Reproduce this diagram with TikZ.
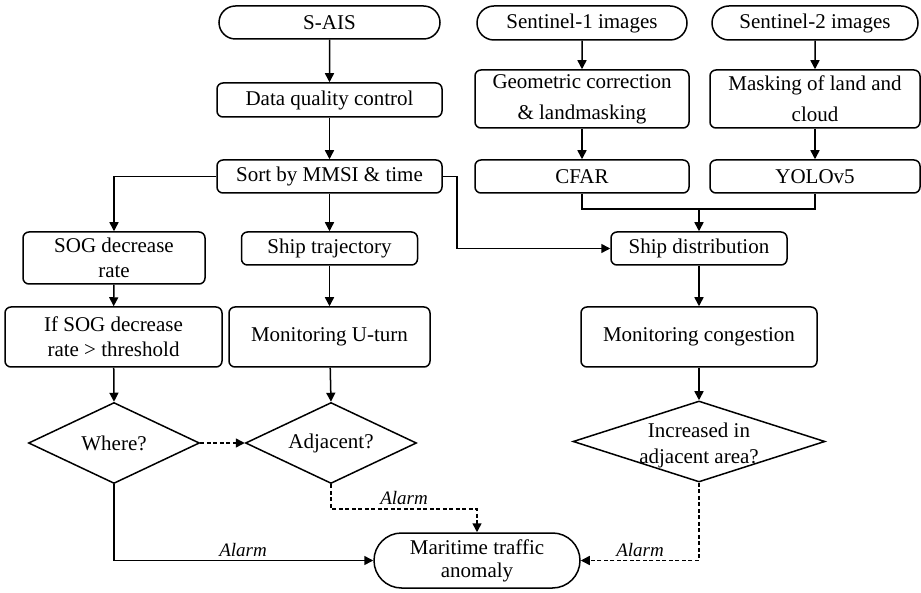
\documentclass[tikz,border=0pt]{standalone}
\usepackage{fontspec}
\setmainfont{Liberation Serif}
\usetikzlibrary{arrows.meta,shapes.geometric,shapes.misc}
\begin{document}
\begin{tikzpicture}[x=1pt,y=-1pt,
  line width=1.5pt,
  every node/.style={font=\fontsize{21}{25}\selectfont},
  box/.style={draw,rounded corners=6pt,align=center,inner sep=2pt},
  term/.style={draw,rounded rectangle,align=center,inner sep=2pt},
  dia/.style={draw,diamond,inner sep=0pt},
  arr/.style={-{Triangle[length=9pt,width=9pt]}},
  dsh/.style={dash pattern=on 4pt off 2.5pt},
  alarm/.style={font=\fontsize{19}{22}\selectfont\itshape}]
\useasboundingbox (0,0) rectangle (921,593);
% left / middle column
\node[term,minimum width=225pt,minimum height=33pt] (sais) at (329.5,22.5) {S-AIS};
\node[box,minimum width=225pt,minimum height=34pt] (dqc) at (329.5,100) {Data quality control};
\node[box,minimum width=225pt,minimum height=33pt] (sort) at (329.5,176.5) {Sort by MMSI \& time};
\node[box,minimum width=182pt,minimum height=52pt] (sogd) at (114,258) {SOG decrease\\rate};
\node[box,minimum width=176pt,minimum height=33pt] (shipt) at (329.5,248.5) {Ship trajectory};
\node[box,minimum width=217pt,minimum height=60pt] (ifsog) at (113.5,337) {If SOG decrease\\rate > threshold};
\node[box,minimum width=201pt,minimum height=60pt] (uturn) at (329.5,337) {Monitoring U-turn};
\node[dia,minimum width=171pt,minimum height=81pt] (where) at (114,443) {};
\node at (where) {Where?};
\node[dia,minimum width=171pt,minimum height=81pt] (adj) at (331,443) {};
\node at (adj) {Adjacent?};
% right columns
\node[term,minimum width=214pt,minimum height=34pt] (s1) at (582,23) {Sentinel-1 images};
\node[term,minimum width=210pt,minimum height=34pt] (s2) at (815,23) {Sentinel-2 images};
\node[box,minimum width=214pt,minimum height=58pt,font=\fontsize{21}{31}\selectfont] (geo) at (582,99) {Geometric correction\\\& landmasking};
\node[box,minimum width=210pt,minimum height=58pt,font=\fontsize{21}{31}\selectfont] (mask) at (815,99) {Masking of land and\\cloud};
\node[box,minimum width=214pt,minimum height=33pt] (cfar) at (582,176.5) {CFAR};
\node[box,minimum width=210pt,minimum height=33pt] (yolo) at (815,176.5) {YOLOv5};
\coordinate (j) at (699,209);
\node[box,minimum width=176pt,minimum height=33pt] (shipd) at (699,248.5) {Ship distribution};
\node[box,minimum width=236pt,minimum height=60pt] (moncong) at (699,337) {Monitoring congestion};
\node[dia,minimum width=252pt,minimum height=81pt] (incr) at (699,441.5) {};
\node[align=center,font=\fontsize{21}{26}\selectfont] (incrt) at (699,445) {Increased in\\adjacent area?};
% bottom
\node[term,minimum width=210pt,minimum height=55pt,font=\fontsize{21}{23}\selectfont] (mta) at (477,560.5) {Maritime traffic\\anomaly};
\coordinate (c1) at (477,509);
% connectors
\draw[arr] (sais) -- (dqc);
\draw[arr] (dqc) -- (sort);
\draw[arr] (sort.west) -| (sogd.north);
\draw[arr] (sort.south) -- (shipt.north);
\draw[arr] (sort.east) -- ++(14,0) |- (shipd.west);
\draw[arr] (s1) -- (geo);
\draw[arr] (geo) -- (cfar);
\draw[arr] (s2) -- (mask);
\draw[arr] (mask) -- (yolo);
\draw (cfar.south) |- (j) -| (yolo.south);
\draw[arr] (j) -- (shipd.north);
\draw[arr] (shipd) -- (moncong);
\draw[arr] (moncong) -- (incr.north);
\draw[arr] (sogd) -- (ifsog);
\draw[arr] (shipt) -- (uturn);
\draw[arr] (ifsog) -- (where.north);
\draw[arr] (uturn) -- (adj.north);
\draw[arr,dsh] (where.east) -- (adj.west);
\draw[arr,dsh] (adj.south) |- (c1) -- (mta.north);
\draw[arr] (where.south) |- (mta.west);
\draw[arr,dsh] (incr.south) |- (mta.east);
\node[alarm] (al1) at (404,498) {Alarm};
\node[alarm] (al2) at (243,550) {Alarm};
\node[alarm] (al3) at (640,550) {Alarm};
\end{tikzpicture}
\end{document}
